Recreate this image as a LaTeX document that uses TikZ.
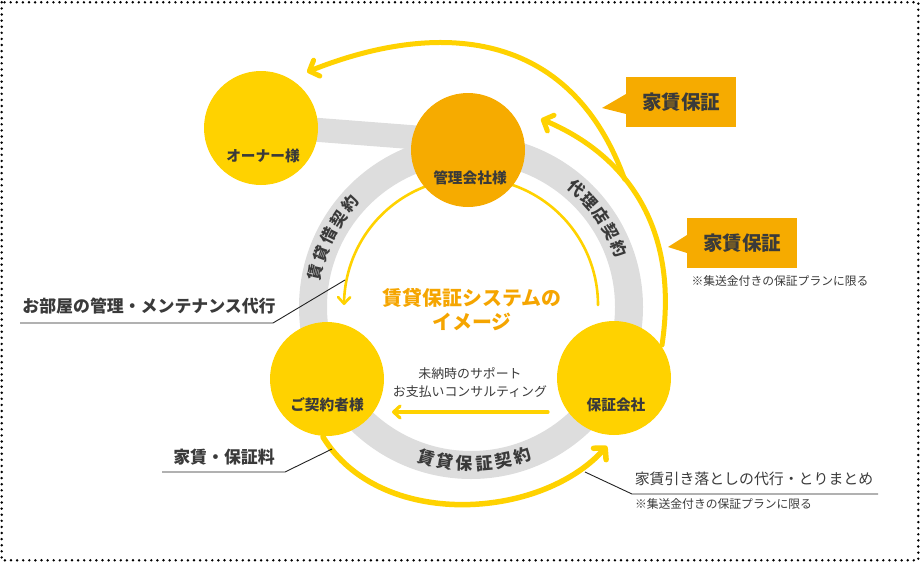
\documentclass[tikz,border=0pt]{standalone}
\usepackage{fontspec}
\setmainfont{Noto Sans CJK JP}
\usetikzlibrary{arrows.meta}
\definecolor{gold}{HTML}{FFD200}
\definecolor{amber}{HTML}{F6AB00}
\definecolor{bandgray}{HTML}{DDDDDD}
\definecolor{txt}{HTML}{3A3A3A}
\definecolor{titleor}{HTML}{F5A500}
\definecolor{leader}{HTML}{222222}
\begin{document}
\begin{tikzpicture}[x=1pt,y=-1pt,
  every node/.style={inner sep=0pt, outer sep=0pt},
  ball/.style={circle, minimum size=114pt, fill=gold},
  ballorange/.style={circle, minimum size=114pt, fill=amber},
  balllbl/.style={text=txt, font=\bfseries\fontsize{14.7pt}{17pt}\selectfont},
  ringtxt/.style={text=txt, font=\bfseries\fontsize{16pt}{18pt}\selectfont},
  ringtxtb/.style={text=txt, font=\bfseries\fontsize{17pt}{19pt}\selectfont},
  callout/.style={fill=amber, minimum width=110pt, minimum height=50pt, text=txt, font=\bfseries\fontsize{19.5pt}{22pt}\selectfont},
  notetxt/.style={text=txt, font=\fontsize{11.8pt}{14pt}\selectfont},
  sidelbl/.style={text=txt, font=\bfseries\fontsize{16.9pt}{19pt}\selectfont},
  sidelbls/.style={text=txt, font=\fontsize{14.9pt}{17pt}\selectfont},
  leaderline/.style={draw=leader, line width=0.9pt},
  ythick/.style={draw=gold, line width=5pt, line cap=round},
  ythin/.style={draw=gold, line width=2.6pt, line cap=round},
  barbbig/.style={-{Straight Barb[length=8pt,width=17pt,round]}},
  barbsmall/.style={-{Straight Barb[length=6.5pt,width=12pt,round]}},
]
\useasboundingbox (0,0) rectangle (920,562);
% dotted frame
\draw[line width=2.7pt, line cap=round, dash pattern=on 0pt off 6.1pt, black] (1.7,2.3) rectangle (918.3,560.3);

% coordinates
\coordinate (ringc) at (471,307);
\coordinate (bandA) at (261,125.5);
\coordinate (bandB) at (468,141.5);

% gray bands
\draw[bandgray, line width=28pt] (ringc) circle[radius=158pt];
\draw[bandgray, line width=24pt] (bandA) -- (bandB);

% ring texts
\foreach \c/\t [count=\i] in {賃/192.6, 貸/199.6, 借/206.6, 契/213.6, 約/220.6}
  \node[ringtxt, rotate=270-\t] (ringL\i) at ({471+159*cos(\t)},{307+159*sin(\t)}) {\c};
\foreach \c/\t [count=\i] in {代/-48.5, 理/-41.75, 店/-35, 契/-28.25, 約/-21.5}
  \node[ringtxt, rotate=270-\t] (ringR\i) at ({471+159*cos(\t)},{307+159*sin(\t)}) {\c};
\foreach \c/\t [count=\i] in {賃/106.5, 貸/99.4, 保/92.3, 証/85.2, 契/78.1, 約/71}
  \node[ringtxtb, rotate=90-\t] (ringB\i) at ({471+157*cos(\t)},{307+157*sin(\t)}) {\c};

% arrow coordinates
\coordinate (bStart) at (662,345);
\coordinate (bTip) at (541,119);
\coordinate (merge) at (624.5,179);
\coordinate (aTip) at (307,72);
\coordinate (bcStart) at (323,437);
\coordinate (bcTip) at (607,446);
\coordinate (saStart) at (548,412);
\coordinate (saTip) at (392,412);

% yellow arrows
\draw[ythick, barbbig] (bStart) .. controls (680,225) and (624,154) .. (bTip);
\draw[ythick, barbbig] (merge) .. controls (569.6,27.6) and (437.2,20.2) .. (aTip);
\draw[ythick, line width=5.5pt, barbbig] (bcStart) .. controls (380,530) and (540,520) .. (bcTip);
\draw[ythin, barbsmall] plot[domain=0:-180, samples=120] ({471+127*cos(\x)},{305+127*sin(\x)});
\draw[ythin, line width=3.2pt, barbsmall] (saStart) -- (saTip);

% circles
\node[ball] (owner) at (261,128) {};
\node[ballorange] (kanri) at (468,150) {};
\node[ball] (keiyaku) at (327,379) {};
\node[ball] (hosho) at (614,378) {};

\node[balllbl] (ownerlbl) at (263,156) {オーナー様};
\node[balllbl] (kanrilbl) at (470,178) {管理会社様};
\node[balllbl] (keiyakulbl) at (327,405) {ご契約者様};
\node[balllbl] (hosholbl) at (616,405) {保証会社};

% center texts
\node[text=titleor, align=center, font=\bfseries\fontsize{19.9pt}{24pt}\selectfont] (title) at (472,310) {賃貸保証システムの\\イメージ};
\node[text=txt, align=center, font=\fontsize{12.9pt}{18pt}\selectfont] (support) at (470,383) {未納時のサポート\\お支払いコンサルティング};

% callouts
\node[callout] (kb1) at (681,102) {家賃保証};
\coordinate (tip1) at (602,108);
\fill[amber] ([yshift=8pt]kb1.west) -- (tip1) -- ([yshift=-12pt]kb1.west) -- cycle;
\node[callout] (kb2) at (742,243) {家賃保証};
\coordinate (tip2) at (668,247);
\fill[amber] ([yshift=8pt]kb2.west) -- (tip2) -- ([yshift=-10pt]kb2.west) -- cycle;
\node[notetxt] (note1) at (780,281) {※集送金付きの保証プランに限る};

% side labels
\node[sidelbl] (heya) at (149,306) {お部屋の管理・メンテナンス代行};
\coordinate (heyaL) at (20,323);
\coordinate (heyaR) at (273,323);
\coordinate (heyaP) at (345,280);
\draw[leaderline] (heyaL) -- (heyaR) -- (heyaP);

\node[sidelbl] (yachin) at (224,457) {家賃・保証料};
\coordinate (yachinL) at (162,472);
\coordinate (yachinR) at (285,472);
\coordinate (yachinP) at (332,449);
\draw[leaderline] (yachinL) -- (yachinR) -- (yachinP);

\node[sidelbls] (hikiotoshi) at (754,479) {家賃引き落としの代行・とりまとめ};
\node[notetxt] (note2) at (723.5,504) {※集送金付きの保証プランに限る};
\coordinate (hikiL) at (632,494);
\coordinate (hikiR) at (878,494);
\coordinate (hikiP) at (585,472);
\draw[leaderline] (hikiR) -- (hikiL) -- (hikiP);
\end{tikzpicture}
\end{document}
